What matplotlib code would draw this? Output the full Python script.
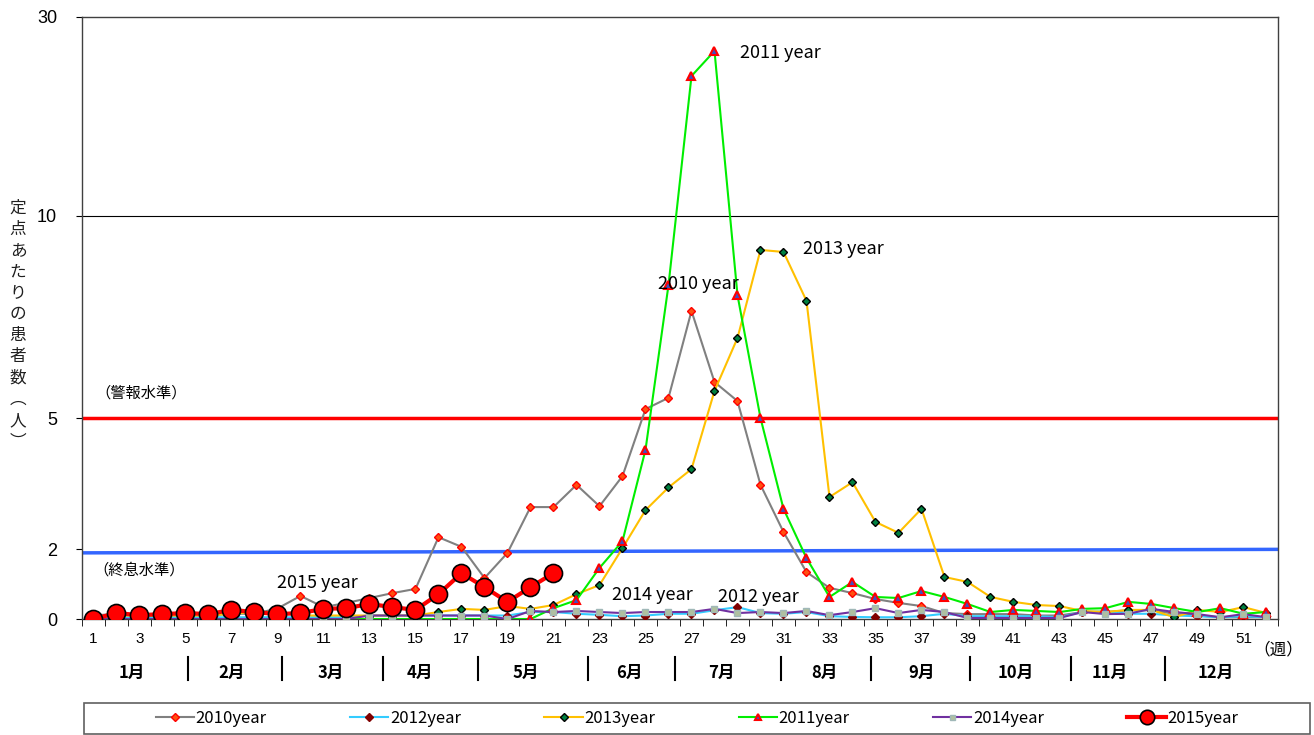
import numpy as np
import matplotlib
matplotlib.use('Agg')
import matplotlib.pyplot as plt
import matplotlib.transforms as mtransforms
from matplotlib.patches import Rectangle

plt.rcParams['font.family'] = ['Noto Sans CJK JP', 'DejaVu Sans']

weeks = np.arange(1, 53)

y2010 = [0.1, 0.15, 0.1, 0.1, 0.1, 0.1, 0.15, 0.15, 0.3, 0.66,
         0.34, 0.46, 0.6, 0.74, 0.86, 2.27, 2.05, 1.17, 1.89, 2.96,
         2.96, 3.47, 2.98, 3.67, 5.22, 5.5, 7.65, 5.89, 5.42, 3.47,
         2.39, 1.34, 0.89, 0.74, 0.57, 0.46, 0.37, 0.17, 0.14, 0.14,
         0.14, 0.1, 0.1, 0.2, 0.2, 0.25, 0.25, 0.15, 0.1, 0.05,
         0.05, 0.05]
y2011 = [0, 0, 0, 0, 0, 0, 0, 0, 0, 0,
         0, 0, 0, 0, 0, 0, 0, 0, 0, 0,
         0.31, 0.54, 1.46, 2.18, 4.27, 8.29, 24.07, 26.58, 8.04, 5.0,
         2.92, 1.74, 0.63, 1.06, 0.63, 0.6, 0.8, 0.63, 0.43, 0.2,
         0.26, 0.23, 0.2, 0.29, 0.31, 0.49, 0.43, 0.31, 0.2, 0.31,
         0.15, 0.2]
y2012 = [0.05, 0.05, 0.05, 0.05, 0.05, 0.05, 0.05, 0.05, 0.05, 0.05,
         0.05, 0.05, 0.1, 0.1, 0.1, 0.1, 0.1, 0.1, 0.1, 0.2,
         0.2, 0.15, 0.12, 0.08, 0.1, 0.15, 0.15, 0.25, 0.34, 0.17,
         0.15, 0.2, 0.08, 0.06, 0.05, 0.05, 0.08, 0.15, 0.08, 0.08,
         0.08, 0.08, 0.05, 0.2, 0.22, 0.15, 0.15, 0.1, 0.08, 0.05,
         0.08, 0.05]
y2013 = [0.05, 0.1, 0.1, 0.1, 0.1, 0.1, 0.15, 0.2, 0.2, 0.1,
         0.1, 0.1, 0.1, 0.1, 0.1, 0.2, 0.29, 0.26, 0.37, 0.29,
         0.4, 0.71, 0.97, 2.02, 2.89, 3.41, 3.83, 5.67, 6.98, 9.16,
         9.11, 7.9, 3.19, 3.53, 2.62, 2.37, 2.92, 1.2, 1.06, 0.63,
         0.49, 0.4, 0.37, 0.23, 0.2, 0.26, 0.26, 0.05, 0.26, 0.2,
         0.34, 0.17]
y2014 = [0, 0, 0, 0, 0, 0, 0, 0, 0, 0,
         0, 0, 0.1, 0.1, 0.1, 0.1, 0.1, 0.1, 0, 0.23,
         0.2, 0.23, 0.2, 0.17, 0.2, 0.2, 0.2, 0.29, 0.17, 0.2,
         0.17, 0.23, 0.11, 0.2, 0.31, 0.17, 0.26, 0.2, 0.03, 0.03,
         0.03, 0.03, 0.03, 0.2, 0.14, 0.15, 0.29, 0.2, 0.14, 0.05,
         0.14, 0.05]
y2015 = [0, 0.17, 0.11, 0.14, 0.17, 0.14, 0.26, 0.2, 0.14, 0.17,
         0.29, 0.31, 0.43, 0.34, 0.26, 0.71, 1.31, 0.91, 0.49, 0.91,
         1.31]

alarm_level = [5.0, 5.0]
end_level = [1.89, 1.99]

months = ['1月', '2月', '3月', '4月', '5月', '6月', '7月', '8月', '9月', '10月', '11月', '12月']
month_pos = [2.67, 7.0, 11.3, 15.2, 19.8, 24.3, 28.3, 32.8, 37.0, 41.1, 45.2, 49.8]
month_sep = [5.1, 9.2, 13.6, 17.7, 22.5, 26.3, 30.9, 34.8, 39.1, 43.5, 47.6]

# piecewise y axis (0-2-5-10-30)
y_vals = [0, 2, 5, 10, 30]
y_pix = [0, 70, 201, 403, 602]


def fwd(v):
    return np.interp(v, y_vals, y_pix)


def inv(p):
    return np.interp(p, y_pix, y_vals)


fig = plt.figure(figsize=(13.14, 7.35), dpi=100)
ax = fig.add_axes([0.0624, 0.1578, 0.9102, 0.8191])
ax.set_yscale('function', functions=(fwd, inv))
ax.set_ylim(0, 30)
ax.set_xlim(0.5, 52.5)

ax.axhline(10, color='black', lw=0.8, zorder=1)
ax.plot([0.5, 52.5], alarm_level, color='#FF0000', lw=2.5, zorder=2)
ax.plot([0.5, 52.5], end_level, color='#3366FF', lw=2.5, zorder=2)

ax.plot(weeks, y2010, color='#808080', lw=1.5, marker='D', ms=4.5,
        mfc='#FF5010', mec='#FF0000', mew=1, label='2010year', zorder=3)
ax.plot(weeks, y2012, color='#33CCFF', lw=1.5, marker='D', ms=4.5,
        mfc='#800000', mec='#800000', label='2012year', zorder=3)
ax.plot(weeks, y2013, color='#FFC000', lw=1.5, marker='D', ms=4.5,
        mfc='#008040', mec='black', mew=1, label='2013year', zorder=3)
ax.plot(weeks, y2011, color='#00EE00', lw=1.5, marker='^', ms=6,
        mfc='#4050C0', mec='#FF0000', mew=1.5, label='2011year', zorder=3)
ax.plot(weeks, y2014, color='#7030A0', lw=1.5, marker='s', ms=4.5,
        mfc='#B0C0A0', mec='#A0B8B8', label='2014year', zorder=3)
ax.plot(weeks[:len(y2015)], y2015, color='#FF0000', lw=3, marker='o', ms=13,
        mfc='#FF0000', mec='black', mew=1.2, label='2015year', zorder=5)

ax.text(29.1, 26.4, '2011 year', fontsize=13, va='center', ha='left')
ax.text(31.85, 9.18, '2013 year', fontsize=13, va='center', ha='left')
ax.text(25.54, 8.32, '2010 year', fontsize=13, va='center', ha='left', zorder=6)
ax.text(23.54, 0.69, '2014 year', fontsize=13, va='center', ha='left')
ax.text(28.15, 0.63, '2012 year', fontsize=13, va='center', ha='left')
ax.text(8.98, 1.03, '2015 year', fontsize=13, va='center', ha='left')
ax.text(1.1, 5.62, '（警報水準）', fontsize=11, va='center', ha='left')
ax.text(1.0, 1.4, '（終息水準）', fontsize=11, va='center', ha='left')

ax.set_yticks(y_vals)
ax.set_yticklabels([str(v) for v in y_vals], fontsize=13, family=['Liberation Sans'])
ax.yaxis.set_minor_locator(matplotlib.ticker.NullLocator())
ax.tick_params(axis='y', length=4, pad=14)

ax.set_xticks(np.arange(1, 53, 2))
ax.set_xticklabels([str(w) for w in range(1, 53, 2)], fontsize=11, family=['Liberation Sans'])
ax.set_xticks(np.arange(0.5, 53, 1), minor=True)
ax.tick_params(axis='x', which='major', length=0, pad=9)
ax.tick_params(axis='x', which='minor', length=5)

for s in ax.spines.values():
    s.set_color('#404040')
    s.set_linewidth(1)

trans = mtransforms.blended_transform_factory(ax.transData, fig.transFigure)
for m, p in zip(months, month_pos):
    ax.text(p, 0.0844, m, transform=trans, fontsize=12, fontweight='bold',
            ha='center', va='center')
for p in month_sep:
    ax.plot([p, p], [0.075, 0.106], transform=trans, color='black', lw=1.5, clip_on=False)

fig.text(0.9726, 0.116, '（週）', fontsize=12, ha='center', va='center')

ylab = '定点あたりの患者数︵人︶'
fig.text(0.0137, 0.558, '\n'.join(ylab), fontsize=12, ha='center', va='center',
         linespacing=1.33, color='#202020')

# legend box
fig.patches.append(Rectangle((84 / 1314, 0.0015), 1226 / 1314, 31 / 735,
                             transform=fig.transFigure, fill=False,
                             edgecolor='#606060', lw=1.2))
leg = fig.legend(loc='center', bbox_to_anchor=(697 / 1314, 0.0231),
                 ncol=6, frameon=False, fontsize=12, handlelength=2.3,
                 handletextpad=0.1, columnspacing=5.0, borderpad=0, markerscale=0.8)

fig.savefig('out.png', dpi=100)
